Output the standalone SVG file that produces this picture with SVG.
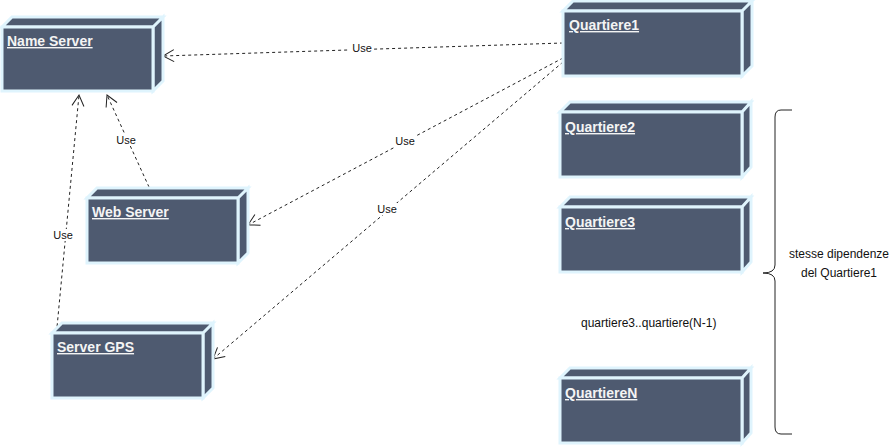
<svg xmlns="http://www.w3.org/2000/svg" width="896" height="448" viewBox="0 0 896 448">
<defs>
<style>
.face{fill:#4e5a70;stroke:#dff4fd;stroke-width:3;stroke-linejoin:miter}
.lbl{font-family:"Liberation Sans",Arial,sans-serif;font-size:14px;font-weight:bold;fill:#f4f4f4;text-decoration:underline}
.edge{fill:none;stroke:#222;stroke-width:1;stroke-dasharray:3,3}
.use{font-family:"Liberation Sans",Arial,sans-serif;font-size:11px;fill:#111;text-anchor:middle}
.txt{font-family:"Liberation Sans",Arial,sans-serif;font-size:12px;fill:#111}
</style>
<marker id="open" markerWidth="14" markerHeight="14" refX="12" refY="7" orient="auto" markerUnits="userSpaceOnUse">
<path d="M1,1 L12,7 L1,13" fill="none" stroke="#222" stroke-width="1"/>
</marker>
</defs>
<rect width="896" height="448" fill="#fff"/>

<g id="edges">
<line class="edge" x1="563" y1="43" x2="163" y2="56" marker-end="url(#open)"/>
<rect x="350" y="42" width="24" height="12" fill="#fff"/>
<text class="use" x="362" y="52">Use</text>
<line class="edge" x1="563" y1="58" x2="248" y2="225" marker-end="url(#open)"/>
<rect x="393" y="135" width="24" height="12" fill="#fff"/>
<text class="use" x="405" y="145">Use</text>
<line class="edge" x1="563" y1="62" x2="213" y2="359" marker-end="url(#open)"/>
<rect x="375" y="203" width="24" height="12" fill="#fff"/>
<text class="use" x="387" y="213">Use</text>
<line class="edge" x1="149" y1="187" x2="107" y2="95" marker-end="url(#open)"/>
<rect x="114" y="134" width="24" height="12" fill="#fff"/>
<text class="use" x="126" y="144">Use</text>
<line class="edge" x1="52" y1="380" x2="79" y2="95" marker-end="url(#open)"/>
<rect x="51" y="229" width="24" height="12" fill="#fff"/>
<text class="use" x="63" y="239">Use</text>
</g>

<g id="name-server">
<path class="face" d="M2,27 L12,17 L163,17 L153,27 Z M153,27 L163,17 L163,81 L153,91 Z"/>
<rect class="face" x="2" y="27" width="151" height="64"/>
<text class="lbl" x="7" y="46">Name Server</text>
</g>

<g id="web-server">
<path class="face" d="M87,198 L97,188 L248,188 L238,198 Z M238,198 L248,188 L248,253 L238,263 Z"/>
<rect class="face" x="87" y="198" width="151" height="65"/>
<text class="lbl" x="92" y="217">Web Server</text>
</g>

<g id="server-gps">
<path class="face" d="M52,333 L62,323 L213,323 L203,333 Z M203,333 L213,323 L213,388 L203,398 Z"/>
<rect class="face" x="52" y="333" width="151" height="65"/>
<text class="lbl" x="57" y="352">Server GPS</text>
</g>

<g id="quartiere1">
<path class="face" d="M563,11 L573,1 L752,1 L742,11 Z M742,11 L752,1 L752,66 L742,76 Z"/>
<rect class="face" x="563" y="11" width="179" height="65"/>
<text class="lbl" x="569" y="30">Quartiere1</text>
</g>

<g id="quartiere2">
<path class="face" d="M560,112 L570,102 L751,102 L742,112 Z M742,112 L751,102 L751,167 L742,177 Z"/>
<rect class="face" x="560" y="112" width="182" height="65"/>
<text class="lbl" x="565" y="132">Quartiere2</text>
</g>

<g id="quartiere3">
<path class="face" d="M560,207 L570,197 L751,197 L742,207 Z M742,207 L751,197 L751,262 L742,272 Z"/>
<rect class="face" x="560" y="207" width="182" height="65"/>
<text class="lbl" x="565" y="227">Quartiere3</text>
</g>

<g id="quartiereN">
<path class="face" d="M560,378 L570,368 L751,368 L742,378 Z M742,378 L751,368 L751,433 L742,443 Z"/>
<rect class="face" x="560" y="378" width="182" height="65"/>
<text class="lbl" x="565" y="398">QuartiereN</text>
</g>

<g id="brace">
<path d="M792,110 L781,110 Q775,110 775,117 L775,265 Q775,273 763,273 Q775,273 775,281 L775,427 Q775,434 781,434 L792,434" fill="none" stroke="#222" stroke-width="1"/>
</g>
<text class="txt" x="839" y="258" text-anchor="middle" font-size="13">stesse dipendenze</text>
<text class="txt" x="839" y="277" text-anchor="middle" font-size="13">del Quartiere1</text>
<text class="txt" x="581" y="327">quartiere3..quartiere(N-1)</text>
</svg>
